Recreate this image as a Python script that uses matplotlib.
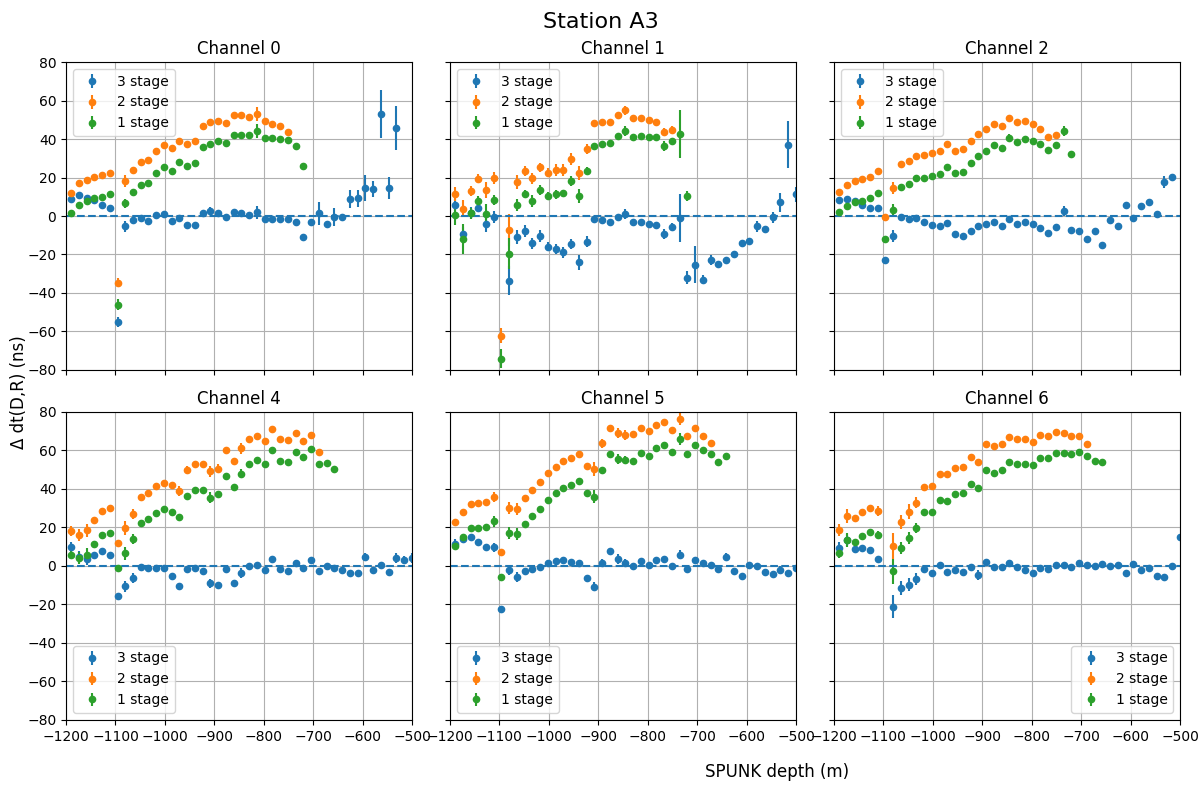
import numpy as np
import matplotlib
matplotlib.use("Agg")
import matplotlib.pyplot as plt

# SPUNK pulser depths (m)
depth = [-1190.0, -1174.3, -1158.6, -1143.0, -1127.3, -1111.6, -1095.9, -1080.2,
         -1064.6, -1048.9, -1033.2, -1017.5, -1001.8, -986.2, -970.5, -954.8,
         -939.1, -923.4, -907.8, -892.1, -876.4, -860.7, -845.0, -829.4,
         -813.7, -798.0, -782.3, -766.6, -751.0, -735.3, -719.6, -703.9,
         -688.2, -672.6, -656.9, -641.2, -625.5, -609.8, -594.2, -578.5,
         -562.8, -547.1, -531.4, -515.8, -500.0]

stages = ["3 stage", "2 stage", "1 stage"]

# Delta dt(D,R) in ns, per channel and stage (None = no measurement)
ch0_s3 = [8.6, 10.7, 9.1, 8.2, 5.6, 4.0, -55.2, -5.4, -2.1, -1.0, -2.6, 0.3, 0.9, -2.6, -1.0,
          -4.7, -4.7, 1.7, 2.6, 1.4, -0.7, 2.0, 1.7, 0.5, 1.9, -1.6, -1.7, -1.6, -1.6, -3.3,
          -11.0, -3.3, 1.4, -4.4, -0.7, -0.7, 8.7, 9.1, 14.5, 14.0, 53.1, 14.5, 45.8]
ch0_s2 = [12.1, 17.1, 18.7, 20.3, 21.3, 22.4, -34.6, 18.2, 24.0, 28.1, 29.0, 33.7, 37.1, 35.3,
          39.2, 37.4, 39.0, 47.0, 48.8, 49.3, 48.4, 52.3, 52.3, 51.2, 53.1, 49.1, 47.9, 46.7, 43.9]
ch0_s1 = [1.4, 5.9, 8.0, 9.1, 9.8, 11.5, -46.0, 6.5, 12.6, 16.1, 17.1, 22.4, 25.5, 23.4, 27.8,
          25.9, 27.6, 35.8, 37.6, 38.8, 37.8, 42.0, 42.3, 42.0, 44.2, 40.7, 40.6, 40.0, 39.5,
          36.5, 26.0]

ch1_s3 = [5.6, -9.4, 1.7, 4.4, -4.2, -0.5, None, -33.6, -11.0, -7.9, -14.2, -10.5, -15.9,
          -17.3, -18.9, -14.7, -24.1, -13.3, -1.4, -2.3, -3.1, -0.7, 1.0, -3.3, -3.3, -4.2,
          -4.5, -9.3, -5.8, -1.0, -32.0, -25.2, -33.0, -22.7, -24.7, -23.1, -19.6, -14.2,
          -13.1, -5.4, -6.5, -0.7, 7.2, 37.1, 11.2]
ch1_s2 = [11.5, 3.8, 12.9, 19.4, 13.5, 19.8, -62.2, -7.5, 17.7, 23.4, 19.6, 25.2, 22.6, 24.0,
          24.0, 29.7, 22.4, 34.8, 48.1, 49.0, 49.0, 52.6, 54.9, 51.0, 51.0, 50.0, 49.0, 43.7, 44.8]
ch1_s1 = [0.3, -12.0, 1.4, 7.7, 1.0, 8.2, -74.1, -19.6, 5.6, 11.4, 7.9, 13.6, 10.5, 11.2,
          11.7, 18.2, 10.3, 23.4, 36.4, 37.4, 37.9, 41.4, 44.2, 41.3, 41.6, 41.3, 41.3, 36.4,
          39.2, 42.7, 10.3]

ch2_s3 = [8.2, 8.6, 8.0, 5.9, 4.0, 4.0, -23.1, -10.5, -0.7, -1.7, -1.2, -3.3, -4.9, -5.4,
          -3.8, -9.4, -10.5, -8.0, -5.2, -4.2, -3.1, -5.4, -1.6, -4.2, -3.1, -4.2, -6.3, -8.9,
          -5.8, 2.6, -7.3, -8.0, -12.1, -7.9, -14.9, -2.1, -5.4, 5.6, -1.2, 5.1, 7.2, 1.2,
          17.7, 20.3]
ch2_s2 = [12.6, 15.9, 18.0, 19.2, 20.3, 23.4, -0.7, 14.5, 26.9, 28.7, 31.1, 31.8, 32.5, 33.9,
          37.4, 33.9, 34.8, 39.0, 42.7, 45.3, 47.6, 46.5, 50.7, 48.6, 49.5, 47.9, 45.3, 41.3, 42.1]
ch2_s1 = [2.1, 5.1, 7.3, 8.0, 9.1, 11.9, -12.1, 3.1, 15.0, 16.8, 19.8, 19.8, 20.8, 21.7, 25.5,
          22.6, 23.1, 27.6, 31.3, 33.9, 36.8, 35.3, 40.6, 38.5, 40.0, 39.2, 37.4, 34.3, 37.1,
          44.1, 32.3]

ch4_s3 = [10.0, 4.5, 3.7, 5.8, 7.5, 5.8, -15.4, -10.7, -6.3, -0.7, -1.2, -1.0, -1.2, -5.2,
          -10.7, -1.7, -1.0, -2.8, -9.1, -9.8, -1.7, -8.9, -3.7, -0.3, 0.7, -2.3, 3.5, -1.6,
          -2.8, 1.7, -0.9, 3.3, -2.8, -0.2, -1.0, -2.3, -3.8, -3.8, 4.7, -2.3, 0.2, -3.0, 4.0,
          3.1, 4.2]
ch4_s2 = [18.2, 15.9, 18.5, 24.0, 28.7, 30.1, 12.1, 19.6, 26.9, 36.0, 37.9, 41.3, 43.2, 41.8,
          38.8, 50.0, 53.1, 53.1, 49.1, 50.5, 60.0, 54.3, 61.0, 65.7, 67.7, 65.0, 71.3, 66.1,
          65.2, 68.9, 65.0, 68.2, 59.3]
ch4_s1 = [5.9, 4.0, 5.9, 11.2, 16.1, 17.1, -0.9, 6.5, 14.0, 22.4, 24.5, 27.4, 29.5, 28.1,
          25.2, 36.2, 39.5, 39.5, 35.5, 37.1, 46.9, 41.0, 47.9, 53.1, 55.2, 53.0, 60.0, 54.7,
          54.2, 59.3, 56.3, 60.5, 53.0, 53.5, 50.3]

ch5_s3 = [11.5, 13.8, 15.0, 12.4, 9.8, 9.6, -22.2, -2.3, -5.9, -2.8, -1.6, -0.7, 1.7, 2.4,
          3.0, 1.9, 1.4, -6.3, -10.8, 1.4, 7.7, 3.7, 1.4, -0.2, 2.4, 0.3, 2.8, 3.7, -0.2, 5.9,
          -1.7, 3.0, 1.6, 0.7, -1.6, 4.5, -2.8, -5.4, 0.3, -0.2, -3.3, -4.4, -2.3, -3.7, -1.0]
ch5_s2 = [22.6, 28.0, 32.2, 32.7, 33.2, 35.8, 7.0, 30.2, 29.5, 35.5, 39.5, 43.7, 48.4, 51.6,
          54.5, 55.8, 57.9, 51.7, 50.2, 63.6, 71.5, 68.9, 68.0, 68.4, 71.5, 69.9, 73.4, 74.5,
          70.5, 76.4, 67.7, 71.5, 67.7, 63.6]
ch5_s1 = [10.5, 15.2, 19.8, 19.6, 20.1, 23.1, -5.9, 17.1, 16.6, 22.0, 26.0, 29.7, 34.3, 37.9,
          40.4, 41.8, 43.9, 38.1, 36.0, 50.0, 58.0, 55.4, 54.9, 54.7, 58.4, 57.3, 61.0, 62.8,
          59.4, 65.9, 57.9, 62.6, 60.1, 57.9, 53.7, 57.0]

ch6_s3 = [9.4, 13.5, 8.7, 9.3, 8.2, 3.7, None, -21.2, -11.5, -9.8, -6.8, -1.6, -3.8, 0.3,
          -3.0, -2.1, -3.3, -0.5, -4.7, 2.1, -0.7, -0.7, 1.6, -0.7, -2.3, -3.8, -0.9, -1.6,
          0.2, 0.7, -0.5, 1.6, 0.2, -0.3, 1.0, -0.3, 0.2, -3.7, 1.0, -1.9, -1.2, -5.1, -5.6,
          -0.2, 15.2]
ch6_s2 = [18.7, 25.9, 24.8, 28.0, 30.1, 28.5, None, 10.3, 22.9, 28.1, 32.9, 40.9, 41.6, 47.9,
          47.6, 50.7, 51.6, 56.3, 54.2, 63.3, 62.1, 63.1, 66.8, 65.7, 65.7, 64.5, 67.8, 67.3,
          69.4, 68.9, 67.3, 67.7, 63.5]
ch6_s1 = [6.5, 13.5, 12.6, 15.6, 17.7, 15.9, None, -2.8, 9.3, 14.5, 19.8, 27.8, 28.1, 34.4,
          33.7, 37.1, 38.1, 42.7, 40.7, 49.7, 48.5, 50.0, 53.7, 53.0, 53.0, 52.6, 56.1, 55.8,
          58.4, 58.7, 57.9, 59.3, 57.0, 54.5, 54.2]

# uncertainties (ns): points not listed have +-1.0
base_err = 1.0
ch0_e3 = {6: 2.5, 7: 3.0, 18: 2.0, 24: 3.5, 32: 6.0, 34: 4.7, 36: 4.8, 37: 4.4, 38: 6.8,
          39: 4.1, 40: 12.4, 41: 5.7, 42: 11.3}
ch0_e2 = {6: 2.5, 7: 3.0, 24: 3.5}
ch0_e1 = {6: 3.0, 7: 2.5, 24: 3.5}
ch1_e3 = {0: 3.0, 1: 3.5, 2: 3.0, 3: 2.0, 4: 4.0, 5: 3.0, 7: 7.6, 8: 3.5, 9: 3.0, 10: 3.0,
          11: 3.0, 12: 2.5, 13: 2.5, 14: 3.0, 15: 2.5, 16: 4.0, 17: 3.0, 22: 2.5, 27: 2.5,
          28: 2.0, 29: 12.6, 30: 3.5, 31: 9.6, 32: 2.5, 33: 2.5, 39: 3.0, 41: 3.0, 42: 5.0,
          43: 12.2, 44: 4.0}
ch1_e2 = {0: 3.5, 1: 4.5, 2: 2.5, 3: 2.5, 4: 4.0, 5: 3.0, 6: 4.0, 7: 8.3, 8: 3.5, 9: 2.5,
          10: 3.0, 11: 2.5, 12: 2.5, 13: 3.0, 14: 3.0, 15: 3.0, 16: 3.5, 17: 2.5, 22: 2.5,
          27: 2.0, 28: 2.0}
ch1_e1 = {0: 5.0, 1: 8.0, 2: 3.0, 3: 2.5, 4: 5.0, 5: 2.5, 6: 5.0, 7: 8.0, 8: 3.0, 9: 2.0,
          10: 3.0, 11: 2.5, 12: 2.0, 13: 2.5, 14: 2.0, 15: 2.5, 16: 3.5, 17: 2.0, 22: 2.5,
          27: 2.5, 29: 12.6, 30: 2.5}
ch2_e3 = {7: 3.0, 29: 2.5, 42: 3.0, 43: 1.5}
ch2_e2 = {7: 3.0}
ch2_e1 = {7: 3.0, 22: 2.0, 29: 2.5}
ch4_e3 = {0: 2.5, 1: 3.0, 2: 3.0, 7: 3.0, 8: 2.5, 18: 2.5, 22: 2.5, 38: 2.0, 42: 2.5,
          43: 2.0, 44: 2.5}
ch4_e2 = {0: 2.5, 1: 3.0, 2: 3.5, 7: 3.5, 8: 2.5, 14: 2.5, 15: 2.0, 18: 3.0, 19: 2.5, 22: 3.0}
ch4_e1 = {0: 2.5, 1: 3.0, 2: 3.5, 7: 3.5, 8: 2.5, 18: 3.0, 22: 2.5}
ch5_e3 = {0: 2.5, 5: 2.5, 7: 2.5, 8: 2.5, 18: 2.5, 19: 2.0, 21: 2.5, 22: 2.0, 29: 2.5,
          32: 1.5, 35: 2.0, 42: 2.0}
ch5_e2 = {5: 2.5, 7: 3.0, 8: 3.0, 18: 3.5, 19: 2.5, 21: 2.5, 22: 2.5, 29: 3.0}
ch5_e1 = {0: 2.0, 5: 3.0, 7: 3.0, 8: 3.0, 18: 3.5, 21: 2.5, 22: 2.0, 29: 3.0}
ch6_e3 = {0: 3.0, 1: 3.0, 7: 6.0, 8: 3.5, 9: 3.5, 10: 3.0, 18: 2.5}
ch6_e2 = {0: 3.0, 1: 3.5, 5: 2.5, 7: 6.6, 8: 3.5, 9: 4.0, 10: 3.0}
ch6_e1 = {0: 2.5, 1: 3.5, 5: 2.0, 7: 6.5, 8: 3.0, 9: 3.0, 10: 2.5}

channels = [
    (0, [ch0_s3, ch0_s2, ch0_s1], [ch0_e3, ch0_e2, ch0_e1], "upper left"),
    (1, [ch1_s3, ch1_s2, ch1_s1], [ch1_e3, ch1_e2, ch1_e1], "upper left"),
    (2, [ch2_s3, ch2_s2, ch2_s1], [ch2_e3, ch2_e2, ch2_e1], "upper left"),
    (4, [ch4_s3, ch4_s2, ch4_s1], [ch4_e3, ch4_e2, ch4_e1], "lower left"),
    (5, [ch5_s3, ch5_s2, ch5_s1], [ch5_e3, ch5_e2, ch5_e1], "lower left"),
    (6, [ch6_s3, ch6_s2, ch6_s1], [ch6_e3, ch6_e2, ch6_e1], "lower right"),
]


def as_array(vals):
    # missing tail points become NaN so they are not drawn
    full = vals + [None] * (len(depth) - len(vals))
    return np.array(full, dtype=float)


def err_array(extra):
    e = np.full(len(depth), base_err)
    for k, v in extra.items():
        e[k] = v
    return e


fig, axs = plt.subplots(2, 3, figsize=(12.01, 7.85), dpi=100, sharex=True, sharey=True)
fig.subplots_adjust(left=0.055, right=0.9825, top=0.921, bottom=0.083,
                    wspace=0.11, hspace=0.136)

x = np.array(depth)
for ax, (ch, series, errs, loc) in zip(axs.flat, channels):
    for k, (vals, extra) in enumerate(zip(series, errs)):
        ax.errorbar(x, as_array(vals), yerr=err_array(extra), fmt="o", ms=4.5,
                    color=f"C{k}", label=stages[k])
    ax.axhline(0, ls="--", color="C0")
    ax.set_title(f"Channel {ch}", fontsize=12)
    ax.grid(True)
    ax.legend(loc=loc)

ax = axs[0, 0]
ax.set_xlim(-1200, -500)
ax.set_ylim(-80, 80)
ax.set_xticks(np.arange(-1200, -499, 100))
ax.set_yticks(np.arange(-80, 81, 20))

fig.suptitle("Station A3", fontsize=16, y=0.985)
fig.text(0.016, 0.5, "Δ dt(D,R) (ns)", rotation=90, va="center", ha="center", fontsize=12)
fig.text(0.647, 0.016, "SPUNK depth (m)", va="center", ha="center", fontsize=12)

fig.savefig("out.png", dpi=100)
